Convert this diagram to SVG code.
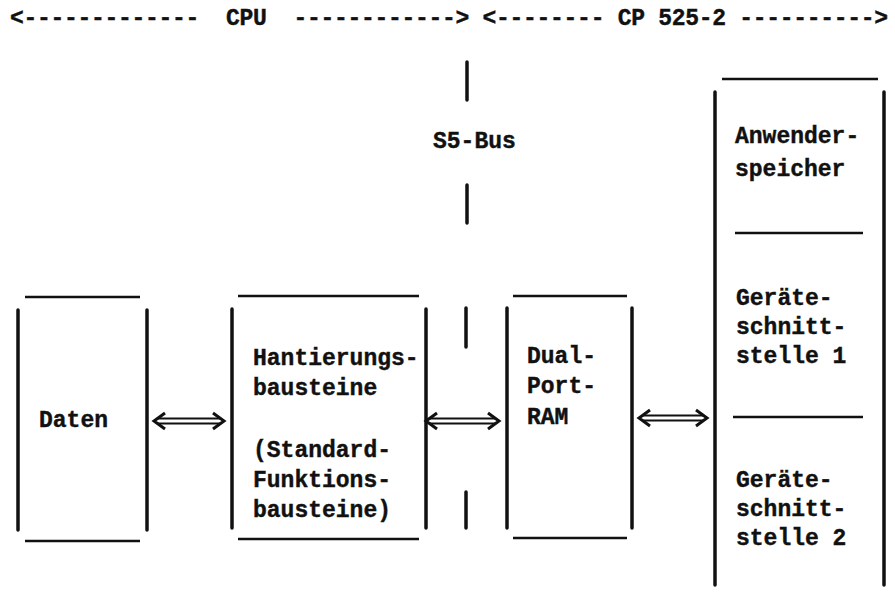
<svg xmlns="http://www.w3.org/2000/svg" width="895" height="594" viewBox="0 0 895 594">
<style>
text{font-family:"Liberation Mono","DejaVu Sans Mono",monospace;font-size:23px;font-weight:bold;fill:#111;stroke:#111;stroke-width:0.4}
.v{stroke:#111;stroke-width:3.5;stroke-linecap:round;fill:none}
.h{stroke:#111;stroke-width:2.5;fill:none}
.hd{stroke:#111;stroke-width:3;fill:none;stroke-linejoin:miter}
.sh{stroke:#111;stroke-width:2;fill:none}
</style>
<rect width="895" height="594" fill="#fff"/>
<g id="header">
<text x="10" y="25" xml:space="preserve" textLength="878">&lt;-------------  CPU  ------------&gt; &lt;-------- CP 525-2 ----------&gt;</text>
</g>
<g id="bus">
<line class="v" x1="467" y1="62" x2="467" y2="100"/>
<line class="v" x1="467" y1="185" x2="467" y2="223"/>
<line class="v" x1="466" y1="308" x2="466" y2="347"/>
<line class="v" x1="466" y1="492" x2="466" y2="528"/>
<text x="433" y="148">S5-Bus</text>
</g>
<g id="daten">
<line class="h" x1="25" y1="297" x2="140" y2="297"/>
<line class="h" x1="25" y1="541" x2="140" y2="541"/>
<line class="v" x1="18" y1="310" x2="18" y2="530"/>
<line class="v" x1="147" y1="310" x2="147" y2="530"/>
<text x="39" y="427">Daten</text>
</g>
<g id="hantierung">
<line class="h" x1="238" y1="296" x2="419" y2="296"/>
<line class="h" x1="238" y1="539" x2="419" y2="539"/>
<line class="v" x1="232" y1="309" x2="232" y2="528"/>
<line class="v" x1="426" y1="309" x2="426" y2="528"/>
<text x="253" y="365">Hantierungs-</text>
<text x="253" y="395">bausteine</text>
<text x="253" y="457">(Standard-</text>
<text x="253" y="487">Funktions-</text>
<text x="253" y="517">bausteine)</text>
</g>
<g id="dpram">
<line class="h" x1="513" y1="296" x2="627" y2="296"/>
<line class="h" x1="513" y1="538" x2="627" y2="538"/>
<line class="v" x1="507" y1="308" x2="507" y2="528"/>
<line class="v" x1="632" y1="308" x2="632" y2="528"/>
<text x="527" y="363">Dual-</text>
<text x="527" y="393">Port-</text>
<text x="527" y="424">RAM</text>
</g>
<g id="cp">
<line class="h" x1="722" y1="79" x2="878" y2="79"/>
<line class="v" x1="715" y1="92" x2="715" y2="585"/>
<line class="v" x1="884" y1="92" x2="884" y2="585"/>
<line class="h" x1="735" y1="233" x2="863" y2="233"/>
<line class="h" x1="733" y1="417" x2="863" y2="417"/>
<text x="735" y="143">Anwender-</text>
<text x="735" y="176">speicher</text>
<text x="736" y="305">Geräte-</text>
<text x="736" y="334">schnitt-</text>
<text x="736" y="363">stelle 1</text>
<text x="736" y="487">Geräte-</text>
<text x="736" y="516">schnitt-</text>
<text x="736" y="545">stelle 2</text>
</g>
<g id="connectors">
<path class="hd" d="M165,413 L154,421 L165,429 M213,413 L224,421 L213,429"/>
<path class="sh" d="M158,418.5 H220 M158,423.5 H220"/>
<path class="hd" d="M437,413 L426,421 L437,429 M488,413 L499,421 L488,429"/>
<path class="sh" d="M430,418.5 H495 M430,423.5 H495"/>
<path class="hd" d="M650,410 L639,418 L650,426 M696,410 L707,418 L696,426"/>
<path class="sh" d="M643,415.5 H703 M643,420.5 H703"/>
</g>
</svg>
